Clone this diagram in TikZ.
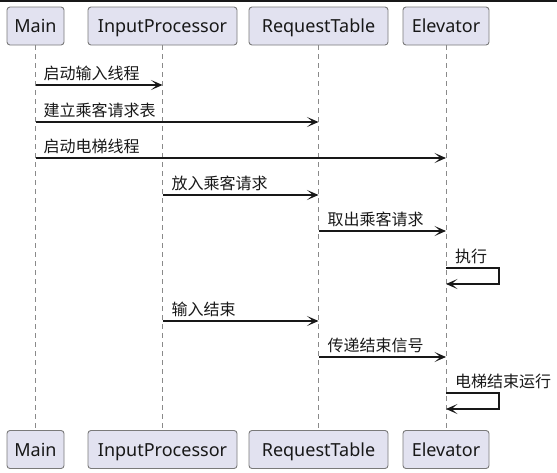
\documentclass[tikz,border=0pt]{standalone}
\usepackage{fontspec}
\setmainfont{Noto Sans}
\newfontfamily\cjk{Noto Sans CJK SC}
\usetikzlibrary{arrows.meta}
\definecolor{pfill}{HTML}{E2E2F0}
\definecolor{pdraw}{HTML}{7A7A7A}
\definecolor{lline}{HTML}{8A8A8A}
\definecolor{ink}{HTML}{181818}
\tikzset{
  part/.style={draw=pdraw, line width=0.9pt, fill=pfill, rounded corners=3pt,
    minimum height=38pt, inner sep=0pt, text height=13pt, text depth=0pt,
    font=\fontsize{18}{20}\selectfont, text=ink},
  life/.style={draw=lline, line width=0.9pt, dash pattern=on 5pt off 4pt},
  msg/.style={draw=ink, line width=1.1pt, -{Stealth[length=11.5pt,width=10pt,inset=6pt]}},
  lbl/.style={inner sep=0pt, anchor=base west, font=\cjk\fontsize{16}{18}\selectfont, text=ink},
}
\begin{document}
\begin{tikzpicture}[x=1pt,y=-1pt]
\useasboundingbox (0,0) rectangle (557,472);
\fill[ink] (0,0) rectangle (557,1.5);
% participants
\node[part, minimum width=57pt]  (mainT) at (35.5,26) {Main};
\node[part, minimum width=149pt] (ipT)   at (162.5,26) {InputProcessor};
\node[part, minimum width=139pt] (rtT)   at (318.5,26) {RequestTable};
\node[part, minimum width=86pt]  (elT)   at (446,26) {Elevator};
\node[part, minimum width=57pt]  (mainB) at (35.5,449.5) {Main};
\node[part, minimum width=149pt] (ipB)   at (162.5,449.5) {InputProcessor};
\node[part, minimum width=139pt] (rtB)   at (318.5,449.5) {RequestTable};
\node[part, minimum width=86pt]  (elB)   at (446,449.5) {Elevator};
% lifelines
\draw[life] (mainT) -- (mainB);
\draw[life] (ipT) -- (ipB);
\draw[life] (rtT) -- (rtB);
\draw[life] (elT) -- (elB);
% message rows
\coordinate (y1) at (0,85);
\coordinate (y2) at (0,122);
\coordinate (y3) at (0,158);
\coordinate (y4) at (0,195);
\coordinate (y5) at (0,231);
\coordinate (y6) at (0,268);
\coordinate (y6b) at (0,284);
\coordinate (y7) at (0,321);
\coordinate (y8) at (0,357);
\coordinate (y9) at (0,393);
\coordinate (y9b) at (0,409);
\coordinate (selfx) at (499,0);
% messages
\draw[msg] (mainT |- y1) -- (ipT |- y1);
\node[lbl] (l1) at ([xshift=8pt,yshift=6pt]mainT |- y1) {启动输入线程};
\draw[msg] (mainT |- y2) -- (rtT |- y2);
\node[lbl] (l2) at ([xshift=8pt,yshift=6pt]mainT |- y2) {建立乘客请求表};
\draw[msg] (mainT |- y3) -- (elT |- y3);
\node[lbl] (l3) at ([xshift=8pt,yshift=6pt]mainT |- y3) {启动电梯线程};
\draw[msg] (ipT |- y4) -- (rtT |- y4);
\node[lbl] (l4) at ([xshift=9pt,yshift=6pt]ipT |- y4) {放入乘客请求};
\draw[msg] (rtT |- y5) -- (elT |- y5);
\node[lbl] (l5) at ([xshift=9pt,yshift=6pt]rtT |- y5) {取出乘客请求};
\draw[msg] (elT |- y6) -- (selfx |- y6) -- (selfx |- y6b) -- (elT |- y6b);
\node[lbl] (l6) at ([xshift=9pt,yshift=6pt]elT |- y6) {执行};
\draw[msg] (ipT |- y7) -- (rtT |- y7);
\node[lbl] (l7) at ([xshift=9pt,yshift=6pt]ipT |- y7) {输入结束};
\draw[msg] (rtT |- y8) -- (elT |- y8);
\node[lbl] (l8) at ([xshift=9pt,yshift=6pt]rtT |- y8) {传递结束信号};
\draw[msg] (elT |- y9) -- (selfx |- y9) -- (selfx |- y9b) -- (elT |- y9b);
\node[lbl] (l9) at ([xshift=9pt,yshift=6pt]elT |- y9) {电梯结束运行};
\end{tikzpicture}
\end{document}
